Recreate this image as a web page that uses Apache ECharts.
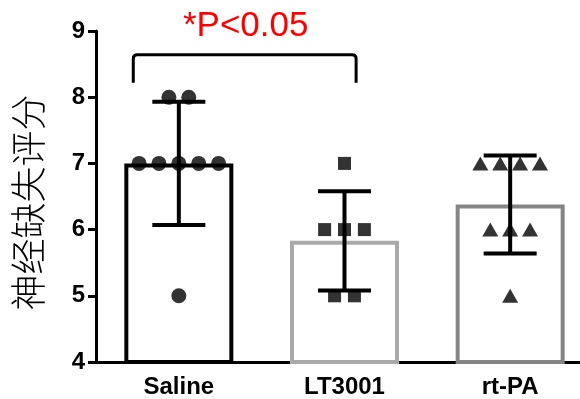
<!DOCTYPE html>
<html>
<head>
<meta charset="utf-8">
<script src="https://cdn.jsdelivr.net/npm/echarts@6/dist/echarts.min.js"></script>
<style>html,body{margin:0;padding:0;background:#fff}#c{width:580px;height:399px}</style>
</head>
<body>
<div id="c"></div>
<script>
var categories = ['Saline', 'LT3001', 'rt-PA'];
var means = [7.0, 5.83, 6.38];
var sds = [0.93, 0.75, 0.74];
var salineScores = [8, 8, 7, 7, 7, 7, 7, 5];
var lt3001Scores = [7, 6, 6, 6, 5, 5];
var rtpaScores = [7, 7, 7, 7, 6, 6, 6, 5];
var yTicks = [4, 5, 6, 7, 8, 9];
var barColors = ['#000000', '#a9a9a9', '#858585'];
var pLabel = '*P<0.05';
var bracketGroups = [0, 1];

// spread points with identical value side by side around category centre
function swarm(scores, idx) {
  var counts = {}, seen = {}, out = [];
  scores.forEach(function (v) { counts[v] = (counts[v] || 0) + 1; });
  scores.forEach(function (v) {
    var k = seen[v] || 0; seen[v] = k + 1;
    var n = counts[v];
    out.push([idx + (k - (n - 1) / 2) * 0.12, v]);
  });
  return out;
}

var font = 'Liberation Sans, Arial, sans-serif';
var chart = echarts.init(document.getElementById('c'));
chart.setOption({
  animation: false,
  backgroundColor: '#fff',
  grid: { left: 96, top: 31, width: 497, height: 331, outerBoundsMode: 'none', containLabel: false },
  xAxis: [{
    type: 'category', data: categories, boundaryGap: true,
    axisLine: { onZero: false, lineStyle: { color: '#000', width: 3 } },
    axisTick: { alignWithLabel: true, length: 8, lineStyle: { color: '#000', width: 3 } },
    axisLabel: { color: '#000', fontFamily: font, fontWeight: 'bold', fontSize: 24, margin: 13 }
  }, {
    type: 'value', min: -0.5, max: 2.5, show: false,
    axisLine: { show: false, onZero: false }
  }],
  yAxis: {
    type: 'value', min: 4, max: 9, interval: 1,
    axisLine: { show: true, onZero: false, lineStyle: { color: '#000', width: 3 } },
    axisTick: { show: true, length: 8, lineStyle: { color: '#000', width: 3 } },
    axisLabel: { color: '#000', fontFamily: font, fontWeight: 'bold', fontSize: 24, margin: 11,
      formatter: function (v) { return yTicks.indexOf(v) >= 0 ? String(v) : ''; } },
    splitLine: { show: false },
    name: '神经缺失评分', nameLocation: 'middle', nameRotate: 90, nameGap: 50,
    nameTextStyle: { color: '#000', fontFamily: 'Noto Sans CJK SC', fontSize: 36, fontWeight: 300, padding: [0, 12, 0, 0] }
  },
  series: [{
    type: 'bar', barWidth: 109, z: 1,
    data: means.map(function (m, i) {
      return { value: m, itemStyle: { color: '#fff', borderColor: barColors[i], borderWidth: 4 } };
    })
  }, {
    type: 'scatter', xAxisIndex: 1, symbol: 'circle', symbolSize: 15, z: 3,
    itemStyle: { color: '#000' }, data: swarm(salineScores, 0)
  }, {
    type: 'scatter', xAxisIndex: 1, symbol: 'rect', symbolSize: 13, z: 3,
    itemStyle: { color: '#000' }, data: swarm(lt3001Scores, 1)
  }, {
    type: 'scatter', xAxisIndex: 1, symbol: 'triangle', symbolSize: [16, 14], z: 3,
    itemStyle: { color: '#000' }, data: swarm(rtpaScores, 2)
  }, {
    type: 'custom', xAxisIndex: 0, z: 4,
    data: means.map(function (m, i) { return [i, m - sds[i], m + sds[i]]; }),
    renderItem: function (params, api) {
      var lo = api.coord([api.value(0), api.value(1)]);
      var hi = api.coord([api.value(0), api.value(2)]);
      var hw = 26.5;
      var st = { stroke: '#000', lineWidth: 4 };
      return { type: 'group', children: [
        { type: 'line', shape: { x1: lo[0], y1: lo[1], x2: hi[0], y2: hi[1] }, style: st },
        { type: 'line', shape: { x1: lo[0] - hw, y1: lo[1], x2: lo[0] + hw, y2: lo[1] }, style: st },
        { type: 'line', shape: { x1: hi[0] - hw, y1: hi[1], x2: hi[0] + hw, y2: hi[1] }, style: st }
      ] };
    }
  }, {
    type: 'custom', xAxisIndex: 1, z: 5, clip: false,
    data: [[bracketGroups[0] - 0.275, bracketGroups[1] + 0.07, 8.64, 8.22]],
    renderItem: function (params, api) {
      var a = api.coord([api.value(0), api.value(2)]);
      var b = api.coord([api.value(1), api.value(3)]);
      var x1 = a[0], x2 = b[0], yt = a[1], yb = b[1], r = 4;
      var path = 'M' + x1 + ' ' + yb + ' L' + x1 + ' ' + (yt + r) + ' Q' + x1 + ' ' + yt + ' ' + (x1 + r) + ' ' + yt +
        ' L' + (x2 - r) + ' ' + yt + ' Q' + x2 + ' ' + yt + ' ' + x2 + ' ' + (yt + r) + ' L' + x2 + ' ' + yb;
      return { type: 'group', children: [
        { type: 'path', shape: { pathData: path }, style: { fill: null, stroke: '#000', lineWidth: 3 } },
        { type: 'text', x: (x1 + x2) / 2 + 1, y: yt - 28,
          style: { text: pLabel, fill: '#ff0000', font: '35px ' + font, textAlign: 'center', textVerticalAlign: 'middle' } }
      ] };
    }
  }]
});
</script>
</body>
</html>
